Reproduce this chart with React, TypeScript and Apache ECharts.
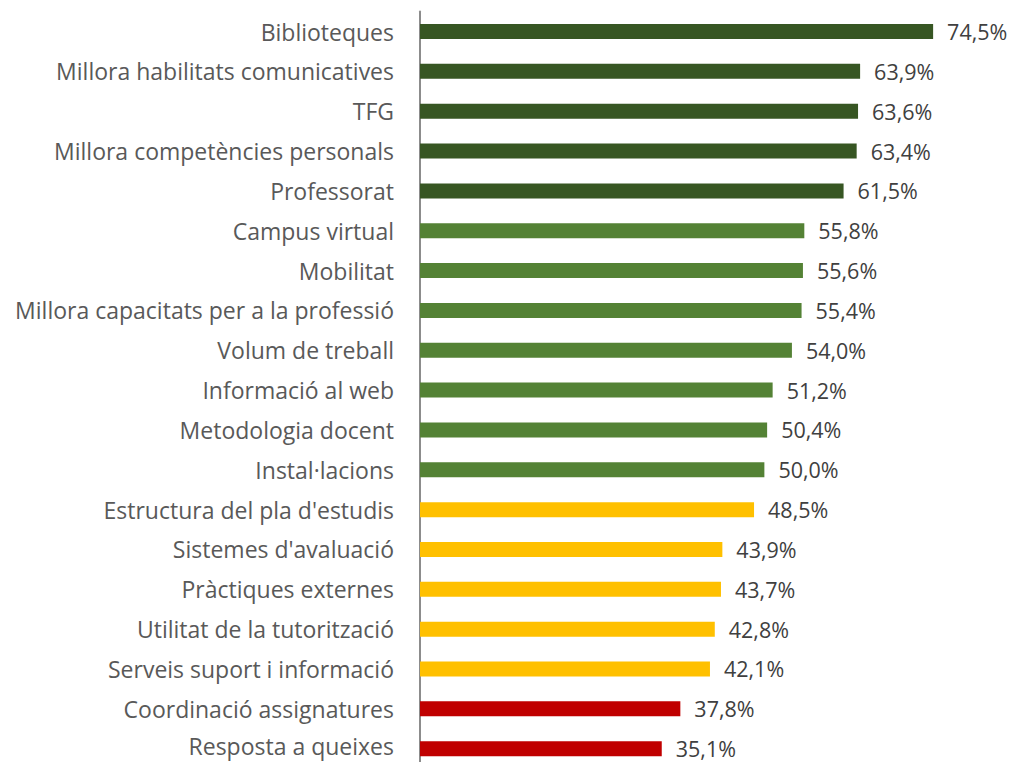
import React, { useEffect, useRef } from "react";
import * as echarts from "echarts";

const categories = [
  "Biblioteques",
  "Millora habilitats comunicatives",
  "TFG",
  "Millora competències personals",
  "Professorat",
  "Campus virtual",
  "Mobilitat",
  "Millora capacitats per a la professió",
  "Volum de treball",
  "Informació al web",
  "Metodologia docent",
  "Instal·lacions",
  "Estructura del pla d'estudis",
  "Sistemes d'avaluació",
  "Pràctiques externes",
  "Utilitat de la tutorització",
  "Serveis suport i informació",
  "Coordinació assignatures",
  "Resposta a queixes",
];

const values = [74.5, 63.9, 63.6, 63.4, 61.5, 55.8, 55.6, 55.4, 54.0, 51.2, 50.4, 50.0, 48.5, 43.9, 43.7, 42.8, 42.1, 37.8, 35.1];

const groupColors = ["#375623", "#548235", "#FFC000", "#C00000"];
// group index per category
const groups = [0, 0, 0, 0, 0, 1, 1, 1, 1, 1, 1, 1, 2, 2, 2, 2, 2, 3, 3];

export default function App() {
  const ref = useRef<HTMLDivElement>(null);
  useEffect(() => {
    if (!ref.current) return;
    const chart = echarts.init(ref.current, null, { renderer: "svg" });
    const last = categories.length - 1;
    chart.setOption({
      animation: false,
      grid: {
        left: 420,
        top: 11.6,
        width: 551,
        height: 757,
        containLabel: false,
        outerBoundsMode: "none",
      },
      xAxis: {
        type: "value",
        min: 0,
        max: 80,
        show: false,
      },
      yAxis: {
        type: "category",
        inverse: true,
        data: categories.map((c, i) =>
          i === last ? { value: c, textStyle: { verticalAlign: "bottom", lineHeight: 5 } } : c
        ),
        axisLine: { show: true, lineStyle: { color: "#8C8C8C", width: 2 } },
        axisTick: { show: false },
        axisLabel: {
          color: "#595959",
          fontFamily: "Open Sans",
          fontSize: 23,
          lineHeight: 22,
          margin: 26,
        },
      },
      series: [
        {
          type: "bar",
          barWidth: 15,
          data: values.map((v, i) => ({
            value: v,
            itemStyle: { color: groupColors[groups[i]] },
          })),
          label: {
            show: true,
            position: "right",
            distance: 14,
            color: "#404040",
            fontFamily: "Open Sans",
            fontSize: 21.5,
            lineHeight: 22,
            formatter: (p: any) => p.value.toFixed(1).replace(".", ",") + "%",
          },
        },
      ],
    });
    return () => chart.dispose();
  }, []);
  return (
    <div
      ref={ref}
      style={{ position: "absolute", left: 0, top: 0, width: 1010, height: 762, background: "#fff" }}
    />
  );
}
